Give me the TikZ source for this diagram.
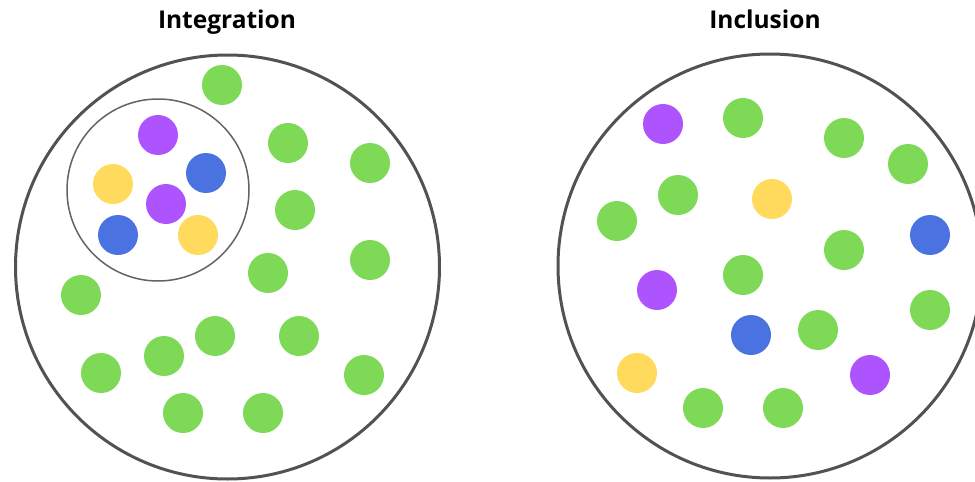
\documentclass[tikz,border=0pt]{standalone}
\usepackage{fontspec}
\setmainfont{Open Sans}
\definecolor{dotgreen}{HTML}{7ED957}
\definecolor{dotpurple}{HTML}{AD54FF}
\definecolor{dotblue}{HTML}{4A72E0}
\definecolor{dotyellow}{HTML}{FFDA5C}
\definecolor{ringgray}{HTML}{525252}
\tikzset{
  gdot/.style={fill=dotgreen},
  pdot/.style={fill=dotpurple},
  bdot/.style={fill=dotblue},
  ydot/.style={fill=dotyellow},
  ring/.style={draw=ringgray, line width=3pt},
  innerring/.style={draw=ringgray!90, line width=1.5pt},
  title/.style={font=\fontsize{24.5}{29}\selectfont\bfseries, anchor=base}
}

\begin{document}
\begin{tikzpicture}[x=1pt, y=-1pt]
\useasboundingbox (0,0) rectangle (975,482);

% Titles
\node[title] (tint) at (227,28) {Integration};
\node[title] (tinc) at (765,28) {Inclusion};

% Left: integration
\draw[ring] (227.5,267) circle (212);
\draw[innerring] (158,190) circle (91);

% group inside the small circle
\fill[pdot] (158,135) circle (20);
\fill[bdot] (206,173) circle (20);
\fill[ydot] (113,184) circle (20);
\fill[pdot] (166,204) circle (20);
\fill[bdot] (118,235) circle (20);
\fill[ydot] (198,235) circle (20);

% green dots around it
\fill[gdot] (222,85) circle (20);
\fill[gdot] (288,143) circle (20);
\fill[gdot] (370,163) circle (20);
\fill[gdot] (295,210) circle (20);
\fill[gdot] (370,260) circle (20);
\fill[gdot] (268,273) circle (20);
\fill[gdot] (81,295) circle (20);
\fill[gdot] (215,336) circle (20);
\fill[gdot] (299,336) circle (20);
\fill[gdot] (164,356) circle (20);
\fill[gdot] (101,373) circle (20);
\fill[gdot] (364,375) circle (20);
\fill[gdot] (183,413) circle (20);
\fill[gdot] (263,413) circle (20);

% Right: inclusion
\draw[ring] (770,266) circle (212);

\fill[pdot] (663,124) circle (20);
\fill[gdot] (743,118) circle (20);
\fill[gdot] (844,138) circle (20);
\fill[gdot] (908,164) circle (20);
\fill[gdot] (678,195) circle (20);
\fill[ydot] (772,199) circle (20);
\fill[gdot] (617,221) circle (20);
\fill[bdot] (930,235) circle (20);
\fill[gdot] (844,250) circle (20);
\fill[gdot] (743,275) circle (20);
\fill[pdot] (657,290) circle (20);
\fill[gdot] (930,310) circle (20);
\fill[gdot] (818,330) circle (20);
\fill[bdot] (751,335) circle (20);
\fill[ydot] (637,373) circle (20);
\fill[pdot] (870,375) circle (20);
\fill[gdot] (703,408) circle (20);
\fill[gdot] (783,408) circle (20);

\end{tikzpicture}
\end{document}
